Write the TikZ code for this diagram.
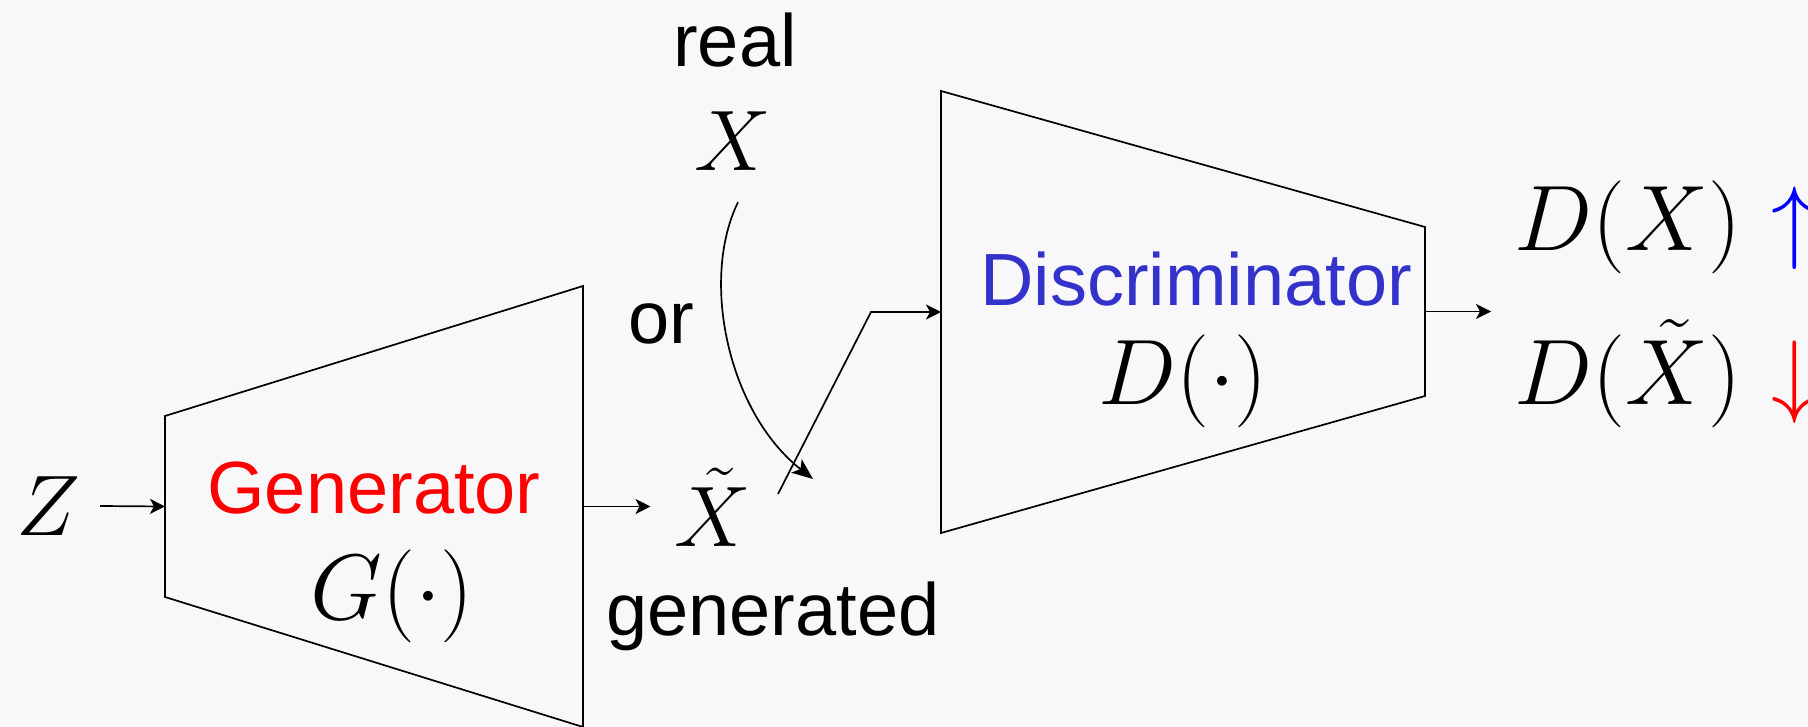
\RequirePackage{fix-cm}
\documentclass[tikz,border=0pt]{standalone}
\usepackage{fontspec}
\newfontfamily\lsans{Liberation Sans}
\usetikzlibrary{arrows.meta,calc}
\definecolor{bg}{RGB}{248,248,250}
\definecolor{discblue}{RGB}{51,51,204}
\begin{document}
\begin{tikzpicture}[x=1pt,y=-1pt,
  sanstxt/.style={inner sep=0pt, font=\fontsize{74}{80}\selectfont\lsans},
  mathtxt/.style={inner sep=0pt, font=\fontsize{86}{96}\selectfont},
  funtxt/.style={inner sep=0pt, font=\fontsize{93}{104}\selectfont},
  block/.style={draw=black, line width=1.7pt, line join=miter},
  arr/.style={-{Stealth[length=15pt,width=15pt,inset=4pt]}, line width=1.7pt},
  curvearr/.style={-{Stealth[length=21pt,width=17pt,inset=5pt]}, line width=1.7pt}]
\fill[bg] (0,0) rectangle (1808,727);
\useasboundingbox (0,0) rectangle (1808,727);
% generator block
\coordinate (g1) at (165,416);
\coordinate (g2) at (583,286);
\coordinate (g3) at (583,727);
\coordinate (g4) at (165,597);
\draw[block] (g1) -- (g2) -- (g3) -- (g4) -- cycle;
\coordinate (gL) at (165,506.5);
\coordinate (gR) at (583,506.5);
% discriminator block
\coordinate (d1) at (941,91);
\coordinate (d2) at (1425,227);
\coordinate (d3) at (1425,396);
\coordinate (d4) at (941,533);
\draw[block] (d1) -- (d2) -- (d3) -- (d4) -- cycle;
\coordinate (dL) at (941,312);
\coordinate (dR) at (1425,311.5);
% texts
\node[mathtxt] (Z) at (48,506) {$Z$};
\node[sanstxt, text=red] (gentxt) at (374,488) {Generator};
\node[funtxt] (gfun) at (392,596) {$G(\cdot)$};
\node[mathtxt, anchor=base] (Xt) at (713,546) {$\tilde{X}$};
\node[sanstxt, anchor=base] (gen) at (773,635) {generated};
\node[sanstxt, anchor=base] (real) at (735,67) {real};
\node[mathtxt, anchor=base] (X) at (733,171) {$X$};
\node[sanstxt, anchor=base] (or) at (661,344) {or};
\node[sanstxt, anchor=base, text=discblue] (disctxt) at (1196,306) {Discriminator};
\node[funtxt, anchor=base] (dfun) at (1183,404) {$D(\cdot)$};
\node[funtxt, anchor=base] (dx) at (1628,251) {$D(X)$};
\node[funtxt, anchor=base] (dxt) at (1628,404) {$D(\tilde{X})$};
\node[funtxt, anchor=base, text=blue] (up) at (1795,252) {$\uparrow$};
\node[funtxt, anchor=base, text=red] (down) at (1795,405) {$\downarrow$};
% connectors
\draw[arr] ($(Z.east)+(20,0)$) -- (gL);
\draw[arr] (gR) -- ($(gR -| Xt.west)+(-24,0)$);
\draw[arr] (dR) -- ++(66,0) coordinate (dout);
\coordinate (cs) at ($(X.south)+(5,31)$);
\coordinate (ce) at (813,479);
\draw[curvearr] (cs) .. controls (700,280) and (728,412) .. (ce);
\coordinate (zs) at (778,494);
\coordinate (zk) at (871,312);
\draw[arr] (zs) -- (zk) -- (dL);
\end{tikzpicture}
\end{document}
